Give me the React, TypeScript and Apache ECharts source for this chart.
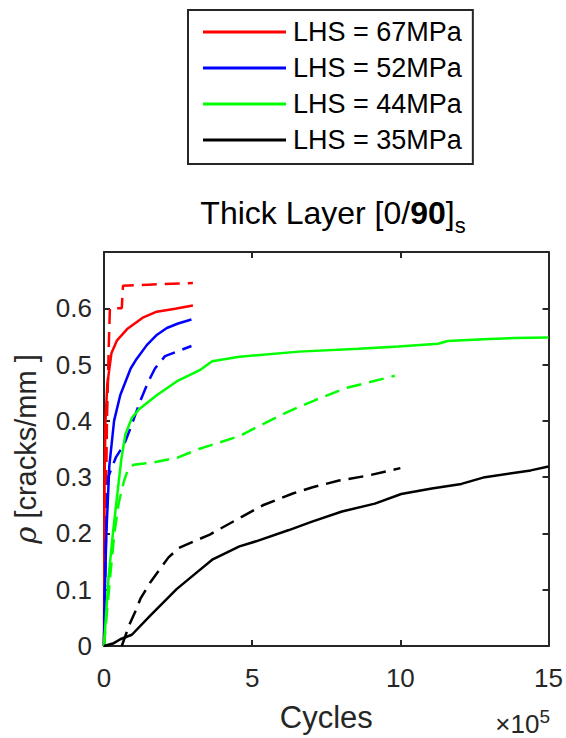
import React, { useEffect, useRef } from "react";
import * as echarts from "echarts";

// x in units of 1e5 cycles, y = crack density [cracks/mm]
const lhs67Solid: [number, number][] = [[0,0],[0.01,0.15],[0.02,0.3],[0.05,0.4],[0.11,0.464],[0.25,0.52],[0.44,0.543],[0.78,0.563],[1.33,0.584],[1.78,0.594],[2.4,0.599],[3.0,0.605]];
const lhs67Dashed: [number, number][] = [[0,0],[0.05,0.2],[0.1,0.4],[0.17,0.55],[0.2,0.6],[0.6,0.6],[0.64,0.64],[1.5,0.642],[3.0,0.645]];
const lhs52Solid: [number, number][] = [[0,0],[0.02,0.08],[0.08,0.2],[0.18,0.32],[0.34,0.4],[0.55,0.446],[0.9,0.493],[1.1,0.51],[1.45,0.535],[1.79,0.553],[2.12,0.565],[2.5,0.573],[2.95,0.58]];
const lhs52Dashed: [number, number][] = [[0,0],[0.03,0.1],[0.07,0.2],[0.14,0.3],[0.4,0.335],[0.68,0.358],[0.9,0.388],[1.22,0.435],[1.5,0.47],[1.72,0.493],[2.06,0.515],[2.56,0.525],[2.95,0.533]];
const lhs44Solid: [number, number][] = [[0,0],[0.05,0.04],[0.15,0.12],[0.3,0.2],[0.45,0.27],[0.58,0.33],[0.72,0.376],[0.94,0.405],[1.17,0.42],[1.79,0.446],[2.45,0.47],[3.23,0.49],[3.65,0.506],[4.57,0.514],[6.58,0.523],[8.59,0.528],[9.93,0.532],[11.27,0.537],[11.6,0.542],[12.8,0.545],[13.85,0.547],[15,0.548]];
const lhs44Dashed: [number, number][] = [[0,0],[0.1,0.06],[0.22,0.13],[0.35,0.2],[0.5,0.255],[0.68,0.294],[0.82,0.315],[1.0,0.322],[1.67,0.326],[2.5,0.335],[3.2,0.35],[3.56,0.356],[4.57,0.373],[5.24,0.391],[6.24,0.417],[7.13,0.437],[8.14,0.458],[9.81,0.48]];
const lhs35Solid: [number, number][] = [[0,0],[0.33,0.005],[0.55,0.012],[0.94,0.02],[1.56,0.054],[2.45,0.101],[3.0,0.125],[3.67,0.154],[4.57,0.177],[5.13,0.186],[6.24,0.206],[7.02,0.221],[8.03,0.239],[9.14,0.253],[10.03,0.27],[11.06,0.28],[12.06,0.288],[12.85,0.3],[14.4,0.312],[15,0.319]];
const lhs35Dashed: [number, number][] = [[0.6,0],[0.85,0.037],[1.07,0.063],[1.23,0.084],[1.56,0.113],[2.17,0.157],[2.52,0.174],[3.57,0.198],[4.46,0.224],[5.36,0.25],[6.37,0.271],[7.04,0.282],[7.93,0.294],[8.93,0.303],[10.0,0.316]];

const legendNames = ["LHS = 67MPa", "LHS = 52MPa", "LHS = 44MPa", "LHS = 35MPa"];
const colors = ["#ff0000", "#0000ff", "#00ff00", "#000000"];
const solidData = [lhs67Solid, lhs52Solid, lhs44Solid, lhs35Solid];
const dashedData = [lhs67Dashed, lhs52Dashed, lhs44Dashed, lhs35Dashed];

const FONT = "'Liberation Sans', Arial, Helvetica, sans-serif";
const AX = "#262626";

export default function App() {
  const ref = useRef<HTMLDivElement>(null);
  useEffect(() => {
    if (!ref.current) return;
    const chart = echarts.init(ref.current, undefined, { renderer: "svg" });
    const series: any[] = [];
    for (let i = 0; i < 4; i++) {
      series.push({
        name: legendNames[i],
        type: "line",
        data: solidData[i],
        symbol: "none",
        lineStyle: { color: colors[i], width: 2.5, type: "solid" },
        itemStyle: { color: colors[i] },
        z: 3,
      });
      series.push({
        name: legendNames[i] + " (dashed)",
        type: "line",
        data: dashedData[i],
        symbol: "none",
        lineStyle: { color: colors[i], width: 2.5, type: [15, 8] },
        itemStyle: { color: colors[i] },
        z: 3,
      });
    }
    const axisCommon = {
      type: "value",
      axisLine: { show: true, onZero: false, lineStyle: { color: AX, width: 2 } },
      axisTick: { show: true, inside: true, length: 6, lineStyle: { color: AX, width: 2 } },
      splitLine: { show: false },
    };
    chart.setOption({
      animation: false,
      backgroundColor: "#ffffff",
      grid: { left: 104, right: 15, top: 252, bottom: 87, containLabel: false },
      legend: {
        data: legendNames,
        orient: "vertical",
        left: 188,
        top: 10,
        padding: [8, 11, 10, 15],
        itemGap: 8,
        itemWidth: 83,
        itemHeight: 3,
        icon: "rect",
        selectedMode: false,
        borderColor: AX,
        borderWidth: 2,
        backgroundColor: "#ffffff",
        textStyle: { fontSize: 27, lineHeight: 28, fontFamily: FONT, color: "#000", padding: [0, 0, 0, 2] },
      },
      xAxis: [
        {
          ...axisCommon,
          min: 0,
          max: 15,
          interval: 5,
          position: "bottom",
          axisLabel: { fontSize: 26, color: AX, fontFamily: FONT, margin: 19 },
          name: "Cycles",
          nameLocation: "middle",
          nameGap: 56,
          nameTextStyle: { fontSize: 31, color: AX, fontFamily: FONT, verticalAlign: "top" },
        },
        {
          ...axisCommon,
          min: 0,
          max: 15,
          interval: 5,
          position: "top",
          axisLabel: { show: false },
        },
      ],
      yAxis: [
        {
          ...axisCommon,
          min: 0,
          max: 0.7,
          interval: 0.1,
          position: "left",
          axisLabel: {
            fontSize: 26,
            color: AX,
            fontFamily: FONT,
            margin: 12,
            formatter: (v: number) => (v > 0.65 ? "" : String(Math.round(v * 10) / 10)),
          },
          name: "{i|ρ} [cracks/mm ]",
          nameLocation: "middle",
          nameGap: 64,
          nameRotate: 90,
          nameTextStyle: {
            fontSize: 29,
            color: AX,
            fontFamily: FONT,
            rich: { i: { fontSize: 29, fontStyle: "italic", fontFamily: "'DejaVu Serif', serif", color: AX } },
          },
        },
        {
          ...axisCommon,
          min: 0,
          max: 0.7,
          interval: 0.1,
          position: "right",
          axisLabel: { show: false },
        },
      ],
      graphic: [
        {
          type: "text",
          x: 333,
          y: 213,
          style: {
            text: "{a|Thick Layer [0/}{b|90}{a|]}{s|s}",
            align: "center",
            verticalAlign: "middle",
            rich: {
              a: { fontSize: 32, fontFamily: FONT, fill: "#000" },
              b: { fontSize: 32, fontFamily: FONT, fontWeight: "bold", fill: "#000" },
              s: { fontSize: 22, fontFamily: FONT, fill: "#000", padding: [24, 0, 0, 0] },
            },
          },
        },
        {
          type: "text",
          x: 550,
          y: 724,
          style: {
            text: "{m|×10}{p|5}",
            align: "right",
            verticalAlign: "middle",
            rich: {
              m: { fontSize: 26, fontFamily: FONT, fill: AX },
              p: { fontSize: 19, fontFamily: FONT, fill: AX, padding: [0, 0, 16, 0] },
            },
          },
        },
      ],
      series,
    });
    return () => chart.dispose();
  }, []);
  return <div ref={ref} style={{ width: 566, height: 738, position: "absolute", left: 0, top: 0 }} />;
}
